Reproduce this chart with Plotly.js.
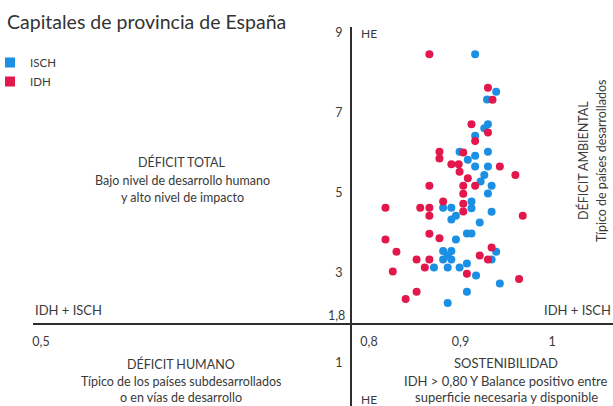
<!DOCTYPE html>
<html>
<head>
<meta charset="utf-8">
<script src="https://cdn.plot.ly/plotly-3.0.1.min.js"></script>
<style>html,body{margin:0;padding:0;background:#fff;}#chart{width:613px;height:406px;}</style>
</head>
<body>
<div id="chart"></div>
<script>
// ISCH (blue) values: IDH on x, HE on y
const ischX = [0.916,0.939,0.929,0.930,0.926,0.916,0.899,0.916,0.930,0.908,0.916,0.930,0.926,0.922,0.934,0.930,0.912,0.881,0.890,0.912,0.934,0.895,0.890,0.921,0.907,0.912,0.895,0.881,0.890,0.886,0.881,0.890,0.939,0.934,0.871,0.886,0.899,0.907,0.917,0.943,0.907,0.886];
const ischY = [8.47,7.53,7.34,6.72,6.62,6.43,6.03,5.93,6.03,5.83,5.66,5.66,5.45,5.29,5.18,4.99,4.79,4.63,4.63,4.62,4.53,4.43,4.34,4.26,3.99,3.99,3.84,3.55,3.55,3.44,3.34,3.34,3.53,3.34,3.14,3.14,3.14,3.24,2.94,2.74,2.53,2.25];
// IDH (red) values
const idhX = [0.866,0.930,0.935,0.912,0.930,0.916,0.877,0.877,0.903,0.890,0.898,0.943,0.899,0.960,0.908,0.866,0.903,0.916,0.903,0.881,0.903,0.818,0.856,0.866,0.903,0.866,0.968,0.866,0.877,0.818,0.830,0.934,0.921,0.930,0.852,0.866,0.861,0.826,0.907,0.964,0.852,0.840];
const idhY = [8.47,7.63,7.33,6.72,6.51,6.30,6.03,5.86,6.01,5.72,5.72,5.66,5.53,5.45,5.37,5.18,5.18,5.18,4.98,4.79,4.73,4.63,4.63,4.63,4.54,4.43,4.43,3.98,3.87,3.84,3.53,3.64,3.44,3.34,3.34,3.34,3.14,3.04,2.98,2.85,2.53,2.35];

const seriesNames = ['ISCH','IDH'];
const xTickVals = [0.8,0.9,1];
const xTickText = ['0,8','0,9','1'];
const xLeftTickVals = [0.5];
const xLeftTickText = ['0,5'];
const yTickVals = [9,7,5,3];
const yTickText = ['9','7','5','3'];
const yLowTickVals = [1];
const yLowTickText = ['1'];

const BLUE = '#1a8fe3', RED = '#e2184c';
const FONT = 'Lato, sans-serif';
const TXT = '#3a3a3a';

// geometry helpers (pixel -> paper)
const L = 33, T = 27, PW = 580, PH = 379, HH = 406;
const px = v => (v - L) / PW;
const py = v => (HH - v) / PH;
const S = px(351);   // vertical axis position
const D = py(324);   // horizontal axis position

const traces = [
  {x: ischX, y: ischY, type: 'scatter', mode: 'markers', name: seriesNames[0], showlegend: false,
   marker: {color: BLUE, size: 8}, xaxis: 'x', yaxis: 'y', hoverinfo: 'x+y'},
  {x: idhX, y: idhY, type: 'scatter', mode: 'markers', name: seriesNames[1], showlegend: false,
   marker: {color: RED, size: 8}, xaxis: 'x', yaxis: 'y', hoverinfo: 'x+y'},
  {x: [null], y: [null], type: 'scatter', mode: 'markers', name: seriesNames[0],
   marker: {color: BLUE, size: 10, symbol: 'square'}, xaxis: 'x2', yaxis: 'y2'},
  {x: [null], y: [null], type: 'scatter', mode: 'markers', name: seriesNames[1],
   marker: {color: RED, size: 10, symbol: 'square'}, xaxis: 'x2', yaxis: 'y2'}
];

const axBase = {showline: false, showgrid: false, zeroline: false, autorange: false,
  ticks: 'outside', tickcolor: 'rgba(0,0,0,0)',
  tickfont: {family: FONT, size: 12.5, color: TXT}, fixedrange: true};

function ann(text, x, y, opts) {
  return Object.assign({text: text, xref: 'paper', yref: 'paper', x: px(x), y: py(y),
    showarrow: false, xanchor: 'center', yanchor: 'middle',
    font: {family: FONT, size: 13, color: TXT}}, opts || {});
}
const f = s => ({family: FONT, size: s, color: TXT});

const annotations = [
  ann('1,8', 347, 315, {xanchor: 'right', font: f(12.5)}),
  ann('HE', 359, 33, {xanchor: 'left', font: f(12)}),
  ann('HE', 359, 399, {xanchor: 'left', font: f(12)}),
  ann('IDH + ISCH', 33, 310, {xanchor: 'left', font: f(13)}),
  ann('IDH + ISCH', 613, 310, {xanchor: 'right', font: f(13)}),
  ann('DÉFICIT TOTAL', 182, 162, {font: f(12.5)}),
  ann('Bajo nivel de desarrollo humano', 182, 180, {font: f(12.5)}),
  ann('y alto nivel de impacto', 182, 197, {font: f(12.5)}),
  ann('DÉFICIT HUMANO', 181, 364, {font: f(12.5)}),
  ann('Típico de los países subdesarrollados', 181, 381, {font: f(12.5)}),
  ann('o en vías de desarrollo', 181, 397, {font: f(12.5)}),
  ann('SOSTENIBILIDAD', 506, 363, {font: f(13)}),
  ann('IDH > 0,80 Y Balance positivo entre', 506, 381, {font: f(13)}),
  ann('superficie necesaria y disponible', 506, 397, {font: f(13)}),
  ann('DÉFICIT AMBIENTAL', 583, 161, {textangle: -90, font: f(12.5)}),
  ann('Típico de países desarrollados', 601, 161, {textangle: -90, font: f(12.5)})
];

const LINE = {color: '#2e2e2e', width: 2};
const shapes = [
  {type: 'line', xref: 'paper', yref: 'paper', x0: px(33), x1: px(613), y0: D, y1: D, line: LINE},
  {type: 'line', xref: 'paper', yref: 'paper', x0: S, x1: S, y0: py(27), y1: py(406), line: LINE}
];

const layout = {
  width: 613, height: 406,
  margin: {l: L, r: 0, t: T, b: 0, autoexpand: false},
  paper_bgcolor: '#ffffff', plot_bgcolor: '#ffffff',
  font: {family: FONT, color: TXT},
  title: {text: 'Capitales de provincia de España', xref: 'container', yref: 'container',
    x: 7/613, xanchor: 'left', y: 1 - 22/406, yanchor: 'middle',
    font: {family: FONT, size: 19.5, color: '#333333'}},
  showlegend: true,
  legend: {xref: 'container', yref: 'container', x: 0, y: 1 - 48/406, xanchor: 'left', yanchor: 'top',
    indentation: -10, font: f(11.5), bgcolor: 'rgba(0,0,0,0)', itemwidth: 30},
  xaxis: Object.assign({}, axBase, {domain: [S, 1], range: [0.8 + (351-369)/915, 0.8 + (613-369)/915],
    anchor: 'free', position: D, ticklen: 6, tickvals: xTickVals, ticktext: xTickText}),
  xaxis2: Object.assign({}, axBase, {domain: [0, S], range: [0.49278, 0.78],
    anchor: 'free', position: D, ticklen: 6, tickvals: xLeftTickVals, ticktext: xLeftTickText}),
  yaxis: Object.assign({}, axBase, {domain: [D, 1], range: [1.725, 9.15],
    anchor: 'free', position: S, ticklen: 6, tickvals: yTickVals, ticktext: yTickText}),
  yaxis2: Object.assign({}, axBase, {domain: [0, D], range: [0.118, 1.8],
    anchor: 'free', position: S, ticklen: 6, tickvals: yLowTickVals, ticktext: yLowTickText}),
  shapes: shapes,
  annotations: annotations
};

Plotly.newPlot('chart', traces, layout, {staticPlot: true, displayModeBar: false});
</script>
</body>
</html>
